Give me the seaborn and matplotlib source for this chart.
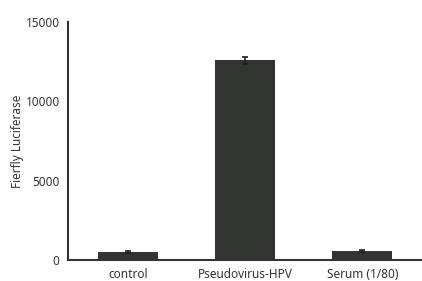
import matplotlib
matplotlib.use("Agg")
import matplotlib.pyplot as plt
import seaborn as sns
import pandas as pd

groups = ["control", "Pseudovirus-HPV", "Serum (1/80)"]
means = [500, 12600, 550]
errs = [40, 220, 50]

sns.set_style("white")
plt.rcParams["font.family"] = ["Noto Sans", "DejaVu Sans"]

df = pd.DataFrame({"group": groups, "value": means})

fig = plt.figure(figsize=(4.22, 2.81), dpi=100)
ax = fig.add_axes([68 / 422, 21 / 281, (422 - 68) / 422, (260 - 22) / 281])

sns.barplot(data=df, x="group", y="value", color="#323432", width=0.51,
            saturation=1, linewidth=0, ax=ax)
ax.errorbar(range(len(groups)), means, yerr=errs, fmt="none",
            ecolor="#2a1c1c", elinewidth=1.2, capsize=2.5, capthick=1.2)

ax.set_xlim(-0.51, 2.51)
ax.set_ylim(0, 15000)
ax.set_yticks([0, 5000, 10000, 15000])
ax.set_xlabel("")
ax.set_ylabel("Fierfly Luciferase", fontsize=8.5, color="#333333")
ax.yaxis.set_label_coords(-0.125, 0.5)
ax.tick_params(axis="both", length=0, labelsize=8.5, colors="#333333")
ax.tick_params(axis="y", pad=6)
ax.tick_params(axis="x", pad=6)
for s in ["top", "right"]:
    ax.spines[s].set_visible(False)
for s in ["left", "bottom"]:
    ax.spines[s].set_color("#333333")
    ax.spines[s].set_linewidth(1.5)

fig.savefig("out.png", dpi=100)
